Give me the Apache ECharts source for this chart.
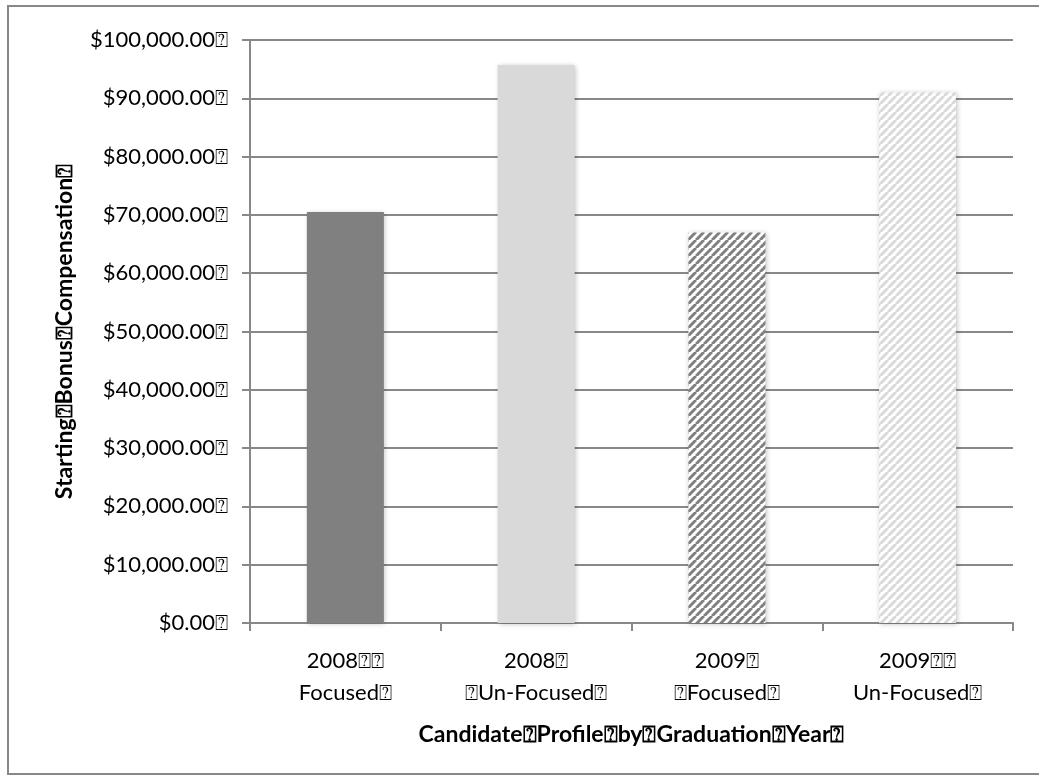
<!DOCTYPE html>
<html>
<head>
<meta charset="utf-8">
<script src="https://cdn.jsdelivr.net/npm/echarts@6/dist/echarts.min.js"></script>
<style>
html,body{margin:0;padding:0;background:#fff;}
#c{width:1039px;height:781px;}
</style>
</head>
<body>
<div id="c"></div>
<script>
var B = '\u2370';
var categories = ['2008' + B + B + '\nFocused' + B, '2008' + B + '\n' + B + 'Un-Focused' + B, '2009' + B + '\n' + B + 'Focused' + B, '2009' + B + B + '\nUn-Focused' + B];
var values = [70500, 95700, 67000, 91000];
var yTitle = 'Starting' + B + 'Bonus' + B + 'Compensation' + B;
var xTitle = 'Candidate' + B + 'Profile' + B + 'by' + B + 'Graduation' + B + 'Year' + B;

function stripe(color) {
  var c = document.createElement('canvas');
  var s = 8;
  c.width = s; c.height = s;
  var ctx = c.getContext('2d');
  ctx.fillStyle = '#fff';
  ctx.fillRect(0, 0, s, s);
  ctx.strokeStyle = color;
  ctx.lineWidth = 3;
  ctx.beginPath();
  for (var k = -1; k <= 1; k++) {
    ctx.moveTo(k * s, s);
    ctx.lineTo(k * s + s, 0);
  }
  ctx.stroke();
  return {image: c, repeat: 'repeat'};
}

var fills = ['#808080', '#d9d9d9', stripe('#808080'), stripe('#d9d9d9')];
var font = 'Lato, "Open Sans", sans-serif';

var chart = echarts.init(document.getElementById('c'), null, {renderer: 'canvas'});
chart.setOption({
  backgroundColor: '#fff',
  animation: false,
  graphic: [{
    type: 'rect',
    shape: {x: 8, y: 6, width: 1040, height: 768},
    style: {fill: 'none', stroke: '#888', lineWidth: 2},
    silent: true
  }],
  grid: {left: 250, top: 40, right: 26, bottom: 158, containLabel: false},
  xAxis: {
    type: 'category',
    data: categories,
    name: xTitle,
    nameLocation: 'middle',
    nameGap: 100,
    nameTextStyle: {fontFamily: font, fontWeight: 'bold', fontSize: 23, color: '#000'},
    axisLine: {lineStyle: {color: '#888', width: 2}},
    axisTick: {show: true, length: 8, lineStyle: {color: '#888', width: 2}},
    axisLabel: {fontFamily: font, fontSize: 22, color: '#000', margin: 22, lineHeight: 32, interval: 0}
  },
  yAxis: {
    type: 'value',
    min: 0, max: 100000, interval: 10000,
    name: yTitle,
    nameLocation: 'middle',
    nameGap: 174,
    nameRotate: 90,
    nameTextStyle: {fontFamily: font, fontWeight: 'bold', fontSize: 23, color: '#000'},
    axisLine: {show: true, lineStyle: {color: '#888', width: 2}},
    axisTick: {show: true, length: 8, lineStyle: {color: '#888', width: 2}},
    splitLine: {lineStyle: {color: '#888', width: 2}},
    axisLabel: {
      fontFamily: font, fontSize: 22, color: '#000', margin: 22,
      formatter: function (v) {
        return '$' + v.toLocaleString('en-US', {minimumFractionDigits: 2, maximumFractionDigits: 2}) + B;
      }
    }
  },
  series: [{
    type: 'bar',
    barWidth: 77,
    data: values.map(function (v, i) {
      return {value: v, itemStyle: {color: fills[i]}};
    }),
    itemStyle: {shadowBlur: 5, shadowColor: 'rgba(0,0,0,0.25)', shadowOffsetX: 1, shadowOffsetY: 1}
  }]
});
</script>
</body>
</html>
